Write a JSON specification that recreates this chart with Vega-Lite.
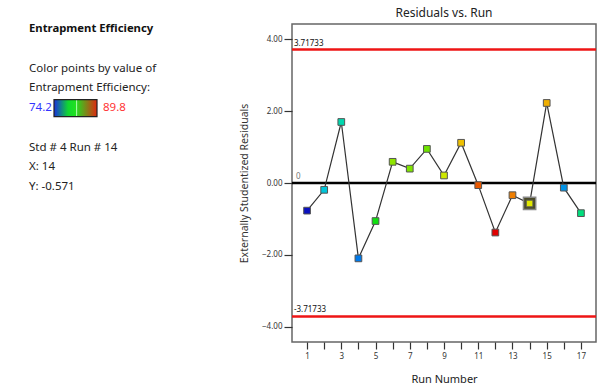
{
  "$schema": "https://vega.github.io/schema/vega-lite/v6.json",
  "background": "white",
  "padding": {"left": 0, "top": 6, "right": 0, "bottom": 0},
  "config": {
    "font": "Noto Sans",
    "axis": {"grid": false},
    "axisX": {"labelOverlap": false, "labelBound": false, "labelFlush": false},
    "view": {"stroke": null}
  },
  "datasets": {
    "runs": [
      {"run": 1, "resid": -0.77, "eff": 74.2},
      {"run": 2, "resid": -0.19, "eff": 78.0},
      {"run": 3, "resid": 1.70, "eff": 79.8},
      {"run": 4, "resid": -2.10, "eff": 76.0},
      {"run": 5, "resid": -1.06, "eff": 82.0},
      {"run": 6, "resid": 0.59, "eff": 83.6},
      {"run": 7, "resid": 0.40, "eff": 83.3},
      {"run": 8, "resid": 0.95, "eff": 83.0},
      {"run": 9, "resid": 0.21, "eff": 85.2},
      {"run": 10, "resid": 1.12, "eff": 86.8},
      {"run": 11, "resid": -0.06, "eff": 88.9},
      {"run": 12, "resid": -1.38, "eff": 89.8},
      {"run": 13, "resid": -0.34, "eff": 88.2},
      {"run": 14, "resid": -0.571, "eff": 85.7},
      {"run": 15, "resid": 2.23, "eff": 87.2},
      {"run": 16, "resid": -0.13, "eff": 76.6},
      {"run": 17, "resid": -0.84, "eff": 80.8}
    ],
    "limits": [
      {"resid": 3.71733, "label": "3.71733"},
      {"resid": -3.71733, "label": "-3.71733"}
    ],
    "center": [{"resid": 0, "label": "0"}],
    "heading": [{"line": 0, "text": "Entrapment Efficiency"}],
    "body": [
      {"line": 2, "text": "Color points by value of"},
      {"line": 3, "text": "Entrapment Efficiency:"},
      {"line": 6, "text": "Std # 4 Run # 14"},
      {"line": 7, "text": "X: 14"},
      {"line": 8, "text": "Y: -0.571"}
    ],
    "low": [{"line": 4, "text": "74.2"}],
    "high": [{"line": 4, "text": "89.8"}],
    "bar": [{"line": 4}]
  },
  "bounds": "flush",
  "spacing": 62,
  "hconcat": [
    {
      "width": 230,
      "height": 318,
      "view": {"stroke": null},
      "layer": [
        {
          "data": {"name": "heading"},
          "mark": {"type": "text", "align": "left", "baseline": "middle", "fontSize": 11.3, "fontWeight": "bold", "color": "#111"},
          "encoding": {
            "x": {"datum": 2.9, "type": "quantitative", "scale": {"domain": [0, 23], "nice": false, "zero": false}, "axis": null},
            "y": {"field": "line", "type": "quantitative", "scale": {"domain": [-0.27, 15.87], "nice": false, "zero": false, "reverse": true}, "axis": null},
            "text": {"field": "text"}
          }
        },
        {
          "data": {"name": "body"},
          "mark": {"type": "text", "align": "left", "baseline": "middle", "fontSize": 11.5, "color": "#222"},
          "encoding": {
            "x": {"datum": 2.9, "type": "quantitative"},
            "y": {"field": "line", "type": "quantitative"},
            "text": {"field": "text"}
          }
        },
        {
          "data": {"name": "low"},
          "mark": {"type": "text", "align": "left", "baseline": "middle", "fontSize": 11.5, "color": "#3333ff"},
          "encoding": {
            "x": {"datum": 2.9, "type": "quantitative"},
            "y": {"field": "line", "type": "quantitative"},
            "text": {"field": "text"}
          }
        },
        {
          "data": {"name": "high"},
          "mark": {"type": "text", "align": "left", "baseline": "middle", "fontSize": 11.5, "color": "#ff3333"},
          "encoding": {
            "x": {"datum": 10.3, "type": "quantitative"},
            "y": {"field": "line", "type": "quantitative"},
            "text": {"field": "text"}
          }
        },
        {
          "data": {"name": "bar"},
          "mark": {
            "type": "rect",
            "stroke": "#222",
            "strokeWidth": 1.2,
            "fill": {
              "gradient": "linear", "x1": 0, "y1": 0, "x2": 1, "y2": 0,
              "stops": [
                {"offset": 0, "color": "#1830e0"},
                {"offset": 0.33, "color": "#10d830"},
                {"offset": 0.5, "color": "#20e020"},
                {"offset": 0.52, "color": "#b0ffb0"},
                {"offset": 0.55, "color": "#30d020"},
                {"offset": 1, "color": "#e02810"}
              ]
            }
          },
          "encoding": {
            "x": {"datum": 5.4, "type": "quantitative"},
            "x2": {"datum": 9.7},
            "y": {"datum": 3.57, "type": "quantitative"},
            "y2": {"datum": 4.43}
          }
        }
      ]
    },
    {
      "width": 304,
      "height": 318,
      "title": {"text": "Residuals vs. Run", "fontSize": 12, "fontWeight": "normal", "color": "#222", "offset": 4},
      "view": {"stroke": "#666", "strokeWidth": 1.5},
      "layer": [
        {
          "data": {"name": "limits"},
          "mark": {"type": "rule", "color": "#ee1515", "strokeWidth": 2.5},
          "encoding": {
            "y": {
              "field": "resid", "type": "quantitative",
              "scale": {"domain": [-4.43, 4.43], "nice": false, "zero": false},
              "title": "Externally Studentized Residuals",
              "axis": {
                "values": [-4, -2, 0, 2, 4], "format": ".2f", "tickCount": 10,
                "domain": false, "tickSize": 8, "tickColor": "#333", "tickWidth": 1.2,
                "labelFontSize": 8, "labelColor": "#333", "labelPadding": 2,
                "titleFontSize": 10.5, "titleFontWeight": "normal", "titleColor": "#333", "titlePadding": 12
              }
            }
          }
        },
        {
          "data": {"name": "center"},
          "mark": {"type": "rule", "color": "#000", "strokeWidth": 2.5},
          "encoding": {
            "y": {"field": "resid", "type": "quantitative", "title": "Externally Studentized Residuals"}
          }
        },
        {
          "data": {"name": "limits"},
          "mark": {"type": "text", "align": "left", "baseline": "bottom", "dy": -2, "fontSize": 8, "color": "#111"},
          "encoding": {
            "x": {"datum": 0.23, "type": "quantitative", "title": "Run Number"},
            "y": {"field": "resid", "type": "quantitative", "title": "Externally Studentized Residuals"},
            "text": {"field": "label"}
          }
        },
        {
          "data": {"name": "center"},
          "mark": {"type": "text", "align": "left", "baseline": "bottom", "dy": -2, "fontSize": 8, "color": "#777"},
          "encoding": {
            "x": {"datum": 0.35, "type": "quantitative", "title": "Run Number"},
            "y": {"field": "resid", "type": "quantitative", "title": "Externally Studentized Residuals"},
            "text": {"field": "label"}
          }
        },
        {
          "data": {"name": "runs"},
          "mark": {"type": "line", "color": "#333", "strokeWidth": 1.2},
          "encoding": {
            "x": {
              "field": "run", "type": "quantitative",
              "scale": {"domain": [0.12, 17.88], "nice": false, "zero": false},
              "title": "Run Number",
              "axis": {
                "values": [1, 2, 3, 4, 5, 6, 7, 8, 9, 10, 11, 12, 13, 14, 15, 16, 17],
                "tickCount": 40,
                "labelExpr": "datum.value % 2 == 1 ? toString(datum.value) : ''",
                "labelOverlap": false,
                "domain": false, "tickSize": 7, "tickColor": "#333", "tickWidth": 1.2,
                "labelFontSize": 8, "labelColor": "#333", "labelPadding": 3,
                "titleFontSize": 11, "titleFontWeight": "normal", "titleColor": "#222", "titlePadding": 13,
                "encode": {"ticks": {"update": {"y2": {"signal": "datum.value % 2 == 1 ? 7 : 4"}}}}
              }
            },
            "y": {"field": "resid", "type": "quantitative", "title": "Externally Studentized Residuals"}
          }
        },
        {
          "data": {"name": "runs"},
          "transform": [{"filter": "datum.run == 14"}],
          "mark": {"type": "square", "size": 150, "filled": true, "color": "#4a4a28", "stroke": "#888", "strokeWidth": 1.5, "opacity": 1},
          "encoding": {
            "x": {"field": "run", "type": "quantitative", "title": "Run Number"},
            "y": {"field": "resid", "type": "quantitative", "title": "Externally Studentized Residuals"}
          }
        },
        {
          "data": {"name": "runs"},
          "mark": {"type": "square", "size": 45, "filled": true, "stroke": "#555", "strokeWidth": 1, "opacity": 1},
          "encoding": {
            "x": {"field": "run", "type": "quantitative", "title": "Run Number"},
            "y": {"field": "resid", "type": "quantitative", "title": "Externally Studentized Residuals"},
            "color": {
              "field": "eff", "type": "quantitative",
              "scale": {"domain": [74.2, 78.1, 82, 85.9, 89.8], "range": ["#0a10c0", "#18c8d8", "#10e010", "#e8e800", "#e00000"]},
              "legend": null
            }
          }
        }
      ]
    }
  ]
}
